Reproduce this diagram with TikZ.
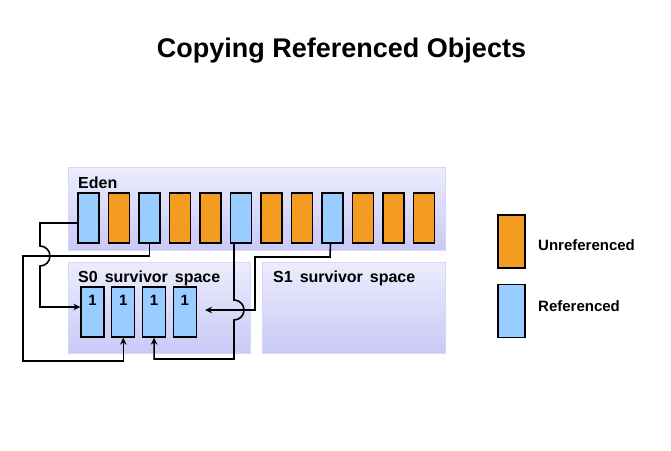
\documentclass[tikz,border=0pt]{standalone}
\usepackage{fontspec}
\setmainfont{Liberation Sans}
\usetikzlibrary{arrows.meta}
\definecolor{oldobj}{HTML}{F39C21}
\definecolor{liveobj}{HTML}{99CCFF}
\definecolor{spacetop}{HTML}{ECECFD}
\definecolor{spacebot}{HTML}{C9C9F7}
\definecolor{spaceedge}{HTML}{D6D6F9}
\newcommand\widespaces{\spaceskip=7pt plus 1pt\relax}
\tikzset{
  region/.style={top color=spacetop,bottom color=spacebot,draw=spaceedge,line width=1pt},
  cell/.style={draw=black,line width=1.3pt,minimum width=21pt,minimum height=50pt,inner sep=0pt},
  lbl/.style={font=\fontsize{15}{18}\selectfont\bfseries,inner sep=0pt},
  spacelbl/.style={font=\fontsize{16}{19}\selectfont\bfseries\widespaces,inner sep=0pt},
  link/.style={line width=1.6pt}
}
\begin{document}
\begin{tikzpicture}[>={Stealth[length=7pt,width=6.5pt]},x=1pt,y=-1pt]
		\useasboundingbox (0,0) rectangle (671,450);
		\node[font=\fontsize{27}{32}\selectfont\bfseries,anchor=base,inner sep=0pt] (title) at (341.5,57) {Copying Referenced Objects};
		% heap spaces
		\path[region] (68,167) rectangle (445,250);
		\path[region] (68,262) rectangle (250,353);
		\path[region] (262,262) rectangle (445,353);
		\node[spacelbl,anchor=base west] (edenlbl) at (78,188) {Eden};
		\node[spacelbl,anchor=base west] (s0lbl) at (78,282) {S0 survivor space};
		\node[spacelbl,anchor=base west] (s1lbl) at (273,282) {S1 survivor space};
		% eden objects
		\foreach \i/\c in {1/liveobj,2/oldobj,3/liveobj,4/oldobj,5/oldobj,6/liveobj,7/oldobj,8/oldobj,9/liveobj,10/oldobj,11/oldobj,12/oldobj}
			\node[cell,fill=\c] (e\i) at ({88.5+(\i-1)*30.5},218) {};
		% copied objects
		\foreach \j in {1,...,4}
			\node[cell,fill=liveobj,minimum width=23pt,text depth=0pt,font=\fontsize{15}{18}\selectfont\bfseries] (s\j) at ({92.5+(\j-1)*30.8},312) {\raisebox{24pt}{1}};
		% legend
		\node[cell,fill=oldobj,minimum width=27pt,minimum height=53pt] (unref) at (511.5,241.5) {};
		\node[cell,fill=liveobj,minimum width=27pt,minimum height=53pt] (ref) at (511.5,311) {};
		\node[lbl,anchor=base west] (unreflbl) at (538,250) {Unreferenced};
		\node[lbl,anchor=base west] (reflbl) at (538,311) {Referenced};
		% copying
		\draw[link,->] ([yshift=-5pt]e1.west) -- (40,223) -- (40,246) arc[start angle=90,end angle=-90,radius=10pt] -- (40,307) -- ([yshift=5pt]s1.west);
		\draw[link,->] (e3.south) -- (e3.south |- 0,256) -- (23,256) -- (23,361) -- (s2.south |- 0,361) -- (s2.south);
		\draw[link,->] ([xshift=-7pt]e6.south) -- (234,300) arc[start angle=90,end angle=-90,radius=10pt] -- (234,359) -- (s3.south |- 0,359) -- (s3.south);
		\draw[link,->] ([xshift=-2pt]e9.south) -- (330,257) -- (255,257) -- (255,310) -- ([xshift=8pt,yshift=2pt]s4.east);
\end{tikzpicture}
\end{document}
